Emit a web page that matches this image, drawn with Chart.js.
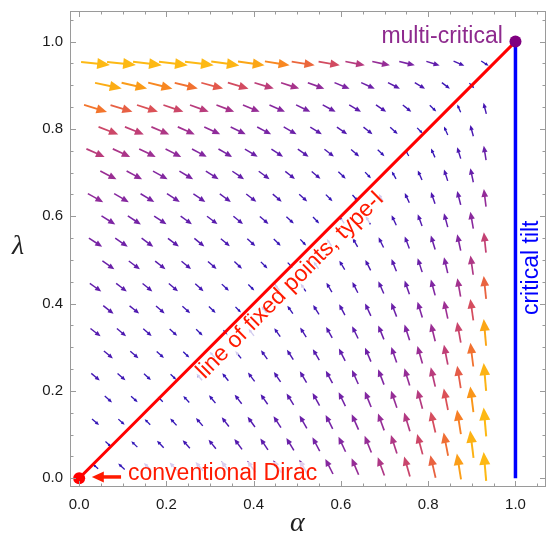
<!DOCTYPE html>
<html>
<head>
<meta charset="utf-8">
<script src="https://cdn.jsdelivr.net/npm/chart.js@4.4.1/dist/chart.umd.min.js"></script>
<style>
  html, body { margin: 0; padding: 0; background: #fff; }
  #wrap { width: 548px; height: 536px; }
</style>
</head>
<body>
<div id="wrap"><canvas id="flow" width="548" height="536"></canvas></div>
<script>
// RG flow in the (alpha, lambda) plane, drawn as a field of arrows

// arrow anchors: rows alternate between column set A and column set B
const colsA = [0.0375, 0.097, 0.1565, 0.216, 0.2755, 0.335, 0.3945, 0.454, 0.5135, 0.573, 0.6325, 0.692, 0.7515, 0.811, 0.8705, 0.93];
const colsB = [0.067, 0.1265, 0.186, 0.2455, 0.305, 0.3645, 0.424, 0.4835, 0.543, 0.6025, 0.662, 0.7215, 0.781, 0.8405, 0.90];
const rowLambda = [0.95, 0.899, 0.847, 0.796, 0.745, 0.694, 0.642, 0.591, 0.540, 0.488, 0.437, 0.386, 0.334, 0.283, 0.232, 0.181, 0.129, 0.078, 0.027];

// direction of each arrow in degrees (counter-clockwise from +alpha), one list per row
const arrowAngle = [
  [-6, -6, -7, -7, -7, -8, -8, -9, -9, -10, -11, -12, -14, -17, -23, -33],
  [-12, -13, -14, -14, -15, -16, -17, -18, -20, -22, -24, -27, -31, -37, -46],
  [-17, -17, -18, -19, -20, -21, -22, -24, -26, -28, -30, -34, -38, -43, 114, 104],
  [-21, -22, -23, -24, -25, -26, -28, -30, -32, -35, -38, -42, -46, 114, 105],
  [-24, -25, -26, -27, -28, -30, -31, -33, -35, -38, -41, -44, 120, 114, 107, 99],
  [-27, -28, -29, -31, -32, -34, -36, -38, -40, -43, -46, 120, 114, 108, 102],
  [-29, -30, -31, -33, -34, -36, -38, -40, -42, -45, -48, 120, 115, 109, 104, 97],
  [-32, -33, -34, -36, -37, -39, -41, -43, -46, 124, 120, 115, 110, 105, 100],
  [-33, -34, -36, -37, -39, -40, -42, -44, -46, 124, 120, 116, 111, 107, 102, 96],
  [-35, -37, -38, -39, -41, -43, -45, -47, 124, 121, 117, 112, 108, 103, 98],
  [-36, -37, -39, -40, -42, -43, -45, 128, 124, 121, 117, 114, 109, 105, 100, 96],
  [-38, -39, -41, -42, -44, -46, 128, 125, 122, 118, 115, 111, 107, 102, 98],
  [-38, -40, -41, -42, -44, 131, 128, 125, 122, 119, 116, 112, 108, 104, 100, 95],
  [-40, -41, -42, -44, 131, 129, 126, 123, 120, 117, 113, 109, 106, 101, 97],
  [-40, -41, -42, -44, 132, 129, 127, 124, 121, 118, 114, 111, 107, 103, 99, 95],
  [-41, -42, 135, 132, 130, 128, 125, 122, 119, 116, 112, 109, 105, 101, 97],
  [-41, -42, 135, 133, 131, 128, 126, 123, 120, 117, 114, 110, 107, 103, 99, 95],
  [-42, 136, 134, 132, 129, 127, 124, 121, 118, 115, 112, 108, 105, 101, 97],
  [139, 137, 135, 133, 130, 128, 126, 123, 120, 117, 113, 110, 106, 103, 99, 95]
];

// relative flow speed of each arrow (0 = on the fixed line, 1 = largest)
const arrowSize = [
  [1, 1, 1, 1, 1, 0.96, 0.86, 0.75, 0.65, 0.55, 0.46, 0.37, 0.28, 0.19, 0.11, 0.03],
  [0.89, 0.82, 0.75, 0.68, 0.61, 0.55, 0.48, 0.42, 0.35, 0.29, 0.23, 0.17, 0.12, 0.06, 0],
  [0.69, 0.63, 0.58, 0.53, 0.47, 0.42, 0.37, 0.32, 0.27, 0.22, 0.18, 0.13, 0.08, 0.03, 0.02, 0.10],
  [0.53, 0.49, 0.44, 0.40, 0.35, 0.31, 0.27, 0.23, 0.18, 0.14, 0.10, 0.06, 0.01, 0.04, 0.11],
  [0.47, 0.43, 0.39, 0.35, 0.31, 0.27, 0.23, 0.19, 0.16, 0.12, 0.08, 0.04, 0, 0.05, 0.12, 0.22],
  [0.38, 0.35, 0.31, 0.28, 0.24, 0.20, 0.17, 0.13, 0.10, 0.06, 0.02, 0.02, 0.07, 0.12, 0.21],
  [0.35, 0.32, 0.28, 0.25, 0.21, 0.18, 0.15, 0.11, 0.08, 0.04, 0.01, 0.03, 0.08, 0.13, 0.21, 0.36],
  [0.29, 0.26, 0.23, 0.19, 0.16, 0.13, 0.10, 0.06, 0.03, 0.01, 0.05, 0.09, 0.14, 0.21, 0.33],
  [0.27, 0.24, 0.21, 0.18, 0.15, 0.11, 0.08, 0.05, 0.02, 0.02, 0.06, 0.10, 0.15, 0.22, 0.31, 0.50],
  [0.22, 0.19, 0.16, 0.13, 0.10, 0.07, 0.04, 0, 0.03, 0.07, 0.11, 0.16, 0.22, 0.30, 0.44],
  [0.20, 0.17, 0.14, 0.12, 0.09, 0.05, 0.02, 0.01, 0.04, 0.08, 0.12, 0.17, 0.22, 0.30, 0.41, 0.64],
  [0.16, 0.13, 0.10, 0.07, 0.04, 0.01, 0.02, 0.05, 0.09, 0.13, 0.18, 0.23, 0.30, 0.39, 0.56],
  [0.15, 0.12, 0.09, 0.06, 0.03, 0, 0.03, 0.07, 0.10, 0.14, 0.18, 0.24, 0.30, 0.38, 0.52, 0.86],
  [0.11, 0.08, 0.05, 0.02, 0.01, 0.04, 0.08, 0.11, 0.15, 0.19, 0.24, 0.30, 0.38, 0.49, 0.68],
  [0.09, 0.07, 0.04, 0.01, 0.02, 0.05, 0.09, 0.12, 0.16, 0.20, 0.25, 0.30, 0.37, 0.47, 0.62, 0.93],
  [0.05, 0.03, 0, 0.03, 0.06, 0.10, 0.13, 0.17, 0.21, 0.25, 0.31, 0.37, 0.46, 0.58, 0.80],
  [0.04, 0.02, 0.01, 0.04, 0.07, 0.11, 0.14, 0.18, 0.22, 0.26, 0.31, 0.37, 0.45, 0.56, 0.72, 1],
  [0.01, 0.02, 0.05, 0.08, 0.11, 0.15, 0.18, 0.22, 0.26, 0.31, 0.37, 0.44, 0.53, 0.67, 0.92],
  [0, 0.03, 0.06, 0.09, 0.12, 0.16, 0.19, 0.23, 0.27, 0.32, 0.37, 0.44, 0.52, 0.64, 0.83, 1]
];

const fixedLine = [{ x: 0, y: 0 }, { x: 1, y: 1 }];   // line of fixed points
const tiltLine = [{ x: 1, y: 0 }, { x: 1, y: 1 }];    // critical tilt
const specialPoints = [{ x: 0, y: 0 }, { x: 1, y: 1 }];
const majorTicks = [0, 0.2, 0.4, 0.6, 0.8, 1.0];
const minorTicks = [0, 0.05, 0.1, 0.15, 0.2, 0.25, 0.3, 0.35, 0.4, 0.45, 0.5, 0.55, 0.6, 0.65, 0.7, 0.75, 0.8, 0.85, 0.9, 0.95, 1.0, 1.05];

// colour ramp for arrow speed
const ramp = [
  [0.0, [40, 20, 185]], [0.1, [70, 22, 178]], [0.2, [100, 30, 170]], [0.3, [128, 38, 162]],
  [0.4, [160, 48, 145]], [0.5, [195, 65, 115]], [0.6, [225, 85, 80]], [0.7, [245, 120, 40]],
  [0.8, [250, 150, 25]], [0.9, [252, 176, 20]], [1.0, [253, 185, 20]]
];
function rampColor(t) {
  t = Math.max(0, Math.min(1, t));
  for (let i = 1; i < ramp.length; i++) {
    if (t <= ramp[i][0]) {
      const [t0, c0] = ramp[i - 1], [t1, c1] = ramp[i];
      const f = (t - t0) / (t1 - t0);
      const c = c0.map((v, k) => Math.round(v + (c1[k] - v) * f));
      return 'rgb(' + c.join(',') + ')';
    }
  }
  return 'rgb(253,185,20)';
}

const arrowPoints = [];
rowLambda.forEach((lam, j) => {
  const cols = j % 2 === 0 ? colsA : colsB;
  cols.forEach((al, k) => {
    arrowPoints.push({ x: al, y: lam, angle: arrowAngle[j][k], mag: arrowSize[j][k] });
  });
});

const SANS = '"Liberation Sans", Arial, sans-serif';
const SERIF = '"Liberation Serif", "DejaVu Serif", serif';
const LABEL_FONT = '23px ' + SANS;

function drawArrow(ctx, x0, y0, x1, y1, headLen, headHalf, width) {
  const dx = x1 - x0, dy = y1 - y0, d = Math.hypot(dx, dy);
  const ux = dx / d, uy = dy / d;
  const bx = x1 - ux * headLen, by = y1 - uy * headLen;
  ctx.lineWidth = width;
  ctx.beginPath();
  ctx.moveTo(x0, y0);
  ctx.lineTo(bx + ux * 1, by + uy * 1);
  ctx.stroke();
  ctx.beginPath();
  ctx.moveTo(x1, y1);
  ctx.lineTo(bx - uy * headHalf, by + ux * headHalf);
  ctx.lineTo(bx + uy * headHalf, by - ux * headHalf);
  ctx.closePath();
  ctx.fill();
}

// arrows and label backgrounds go under the lines
const fieldPlugin = {
  id: 'field',
  beforeDatasetsDraw(chart) {
    const ctx = chart.ctx, xs = chart.scales.x, ys = chart.scales.y;
    ctx.save();
    chart.data.datasets[3].data.forEach(p => {
      const cx = xs.getPixelForValue(p.x), cy = ys.getPixelForValue(p.y);
      const t = Math.min(p.mag, 1);
      const len = 7 + 22 * Math.pow(t, 0.7);
      const a = p.angle * Math.PI / 180;
      const ux = Math.cos(a), uy = -Math.sin(a);
      const col = rampColor(t);
      ctx.strokeStyle = col;
      ctx.fillStyle = col;
      drawArrow(ctx, cx - ux * len / 2, cy - uy * len / 2, cx + ux * len / 2, cy + uy * len / 2,
        0.44 * len, 0.19 * len, 1 + 0.035 * len);
    });

    // translucent white boxes behind the two labels that sit on the field
    ctx.fillStyle = 'rgba(255,255,255,0.78)';
    ctx.font = LABEL_FONT;
    let w = ctx.measureText('conventional Dirac').width;
    const dx = xs.getPixelForValue(0.112), dy = ys.getPixelForValue(-0.004);
    ctx.fillRect(dx - 3, dy - 18, w + 6, 24);

    w = ctx.measureText('line of fixed points, type-I').width;
    ctx.save();
    ctx.translate(xs.getPixelForValue(0.288), ys.getPixelForValue(0.226));
    ctx.rotate(-Math.PI / 4);
    ctx.fillRect(-3, -17, w + 6, 23);
    ctx.restore();
    ctx.restore();
  }
};

const framePlugin = {
  id: 'frame',
  afterDatasetsDraw(chart) {
    const { ctx, chartArea: a } = chart;
    const xs = chart.scales.x, ys = chart.scales.y;
    ctx.save();
    ctx.strokeStyle = '#9a9a9a';
    ctx.lineWidth = 1;
    ctx.strokeRect(a.left + 0.5, a.top + 0.5, a.right - a.left - 1, a.bottom - a.top - 1);
    ctx.beginPath();
    minorTicks.forEach(v => {
      const len = majorTicks.some(m => Math.abs(m - v) < 1e-9) ? 6 : 3.5;
      const px = Math.round(xs.getPixelForValue(v)) + 0.5;
      ctx.moveTo(px, a.bottom); ctx.lineTo(px, a.bottom - len);
      ctx.moveTo(px, a.top); ctx.lineTo(px, a.top + len);
      const py = Math.round(ys.getPixelForValue(v)) + 0.5;
      ctx.moveTo(a.left, py); ctx.lineTo(a.left + len, py);
      ctx.moveTo(a.right, py); ctx.lineTo(a.right - len, py);
    });
    ctx.stroke();

    // annotations
    ctx.font = LABEL_FONT;
    ctx.textBaseline = 'alphabetic';

    ctx.fillStyle = '#ff1a00';
    ctx.textAlign = 'left';
    ctx.fillText('conventional Dirac', xs.getPixelForValue(0.112), ys.getPixelForValue(-0.004));
    ctx.strokeStyle = '#ff1a00';
    drawArrow(ctx, xs.getPixelForValue(0.096), ys.getPixelForValue(0.003),
      xs.getPixelForValue(0.029), ys.getPixelForValue(0.003), 12, 5.5, 3.5);

    ctx.save();
    ctx.translate(xs.getPixelForValue(0.288), ys.getPixelForValue(0.226));
    ctx.rotate(-Math.PI / 4);
    ctx.fillStyle = '#ff1a00';
    ctx.fillText('line of fixed points, type-I', 0, 0);
    ctx.restore();

    ctx.fillStyle = '#8e2a8e';
    ctx.textAlign = 'right';
    ctx.fillText('multi-critical', xs.getPixelForValue(0.971), ys.getPixelForValue(0.996));

    ctx.save();
    ctx.translate(xs.getPixelForValue(1.051), ys.getPixelForValue(0.482));
    ctx.rotate(-Math.PI / 2);
    ctx.fillStyle = '#0000ff';
    ctx.textAlign = 'center';
    ctx.fillText('critical tilt', 0, 0);
    ctx.restore();

    // axis symbols
    ctx.fillStyle = '#222';
    ctx.font = 'italic 28px ' + SERIF;
    ctx.textAlign = 'center';
    ctx.textBaseline = 'middle';
    ctx.fillText('\u03b1', xs.getPixelForValue(0.5), 524);
    ctx.fillText('\u03bb', 18, ys.getPixelForValue(0.53));
    ctx.restore();
  }
};

const tickFont = { family: SANS, size: 15 };
function noPad(s) {
  s.paddingLeft = 0; s.paddingRight = 0; s.paddingTop = 0; s.paddingBottom = 0;
}

new Chart(document.getElementById('flow'), {
  type: 'scatter',
  data: {
    datasets: [
      {
        data: specialPoints,
        pointRadius: 6,
        pointBackgroundColor: ['#ff0000', '#800080'],
        pointBorderColor: ['#ff0000', '#800080'],
        pointBorderWidth: 0,
        showLine: false
      },
      {
        data: fixedLine,
        showLine: true,
        borderColor: '#ff0000',
        borderWidth: 3,
        pointRadius: 0
      },
      {
        data: tiltLine,
        showLine: true,
        borderColor: '#0000ff',
        borderWidth: 3.5,
        pointRadius: 0
      },
      {
        data: arrowPoints,
        pointRadius: 0,
        showLine: false
      }
    ]
  },
  options: {
    responsive: false,
    devicePixelRatio: 1,
    animation: false,
    events: [],
    layout: { autoPadding: false, padding: { top: 11, right: 2, left: 0, bottom: 0 } },
    plugins: { legend: { display: false }, tooltip: { enabled: false } },
    scales: {
      x: {
        type: 'linear',
        min: -0.021,
        max: 1.07,
        grid: { display: false, drawTicks: false },
        border: { display: false },
        ticks: {
          font: tickFont, color: '#1a1a1a', padding: 9, maxRotation: 0, autoSkip: false,
          callback: v => v.toFixed(1)
        },
        afterBuildTicks: s => { s.ticks = majorTicks.map(v => ({ value: v })); },
        afterFit: s => { s.height = 49; noPad(s); }
      },
      y: {
        type: 'linear',
        min: -0.02,
        max: 1.07,
        grid: { display: false, drawTicks: false },
        border: { display: false },
        ticks: {
          font: tickFont, color: '#1a1a1a', padding: 7, autoSkip: false,
          callback: v => v.toFixed(1)
        },
        afterBuildTicks: s => { s.ticks = majorTicks.map(v => ({ value: v })); },
        afterFit: s => { s.width = 70; noPad(s); }
      }
    }
  },
  plugins: [fieldPlugin, framePlugin]
});
</script>
</body>
</html>
